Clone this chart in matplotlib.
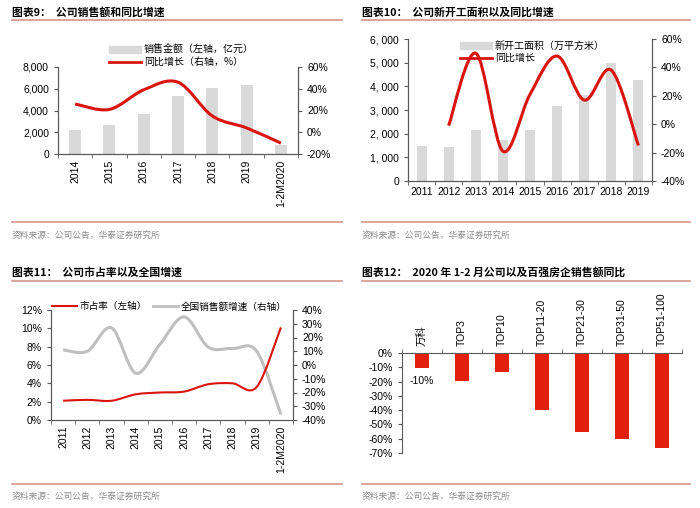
import matplotlib
matplotlib.use("Agg")
import matplotlib.pyplot as plt
import numpy as np
from matplotlib.path import Path
from matplotlib.patches import PathPatch, Patch
from matplotlib.lines import Line2D
from matplotlib.ticker import FuncFormatter

plt.rcParams['font.family'] = ['Liberation Sans', 'Noto Sans CJK SC', 'DejaVu Sans']

# ---- data ----
years9 = ["2014", "2015", "2016", "2017", "2018", "2019", "1-2M2020"]
sales9 = [2200, 2650, 3700, 5300, 6100, 6300, 850]
growth9 = [26, 21, 39, 46, 15, 4, -10]

years10 = ["2011", "2012", "2013", "2014", "2015", "2016", "2017", "2018", "2019"]
area10 = [1480, 1450, 2150, 1750, 2150, 3150, 3650, 5000, 4250]
growth10 = [-1, 50, -19, 21, 48, 17, 38, -15]  # from 2012

years11 = ["2011", "2012", "2013", "2014", "2015", "2016", "2017", "2018", "2019", "1-2M2020"]
share11 = [2.1, 2.2, 2.1, 2.8, 3.0, 3.1, 3.9, 4.0, 3.6, 10.1]
national11 = [11, 10, 27, -6, 15, 35, 13, 12, 10, -36]

cats12 = ["万科", "TOP3", "TOP10", "TOP11-20", "TOP21-30", "TOP31-50", "TOP51-100"]
yoy12 = [-10.5, -19.5, -13.5, -40, -55.5, -60, -66.5]

RED = "#D9140F"
GREY = "#D9D9D9"
SPINE = "#595959"
W, H = 700, 508


def rect(l, t, r, b):
    return [l / W, 1 - b / H, (r - l) / W, (b - t) / H]


def smooth_path(x, y):
    x = np.asarray(x, float)
    y = np.asarray(y, float)
    verts = [(x[0], y[0])]
    codes = [Path.MOVETO]
    n = len(x)
    for i in range(n - 1):
        i0 = max(i - 1, 0)
        i3 = min(i + 2, n - 1)
        c1 = (x[i] + (x[i + 1] - x[i0]) / 6, y[i] + (y[i + 1] - y[i0]) / 6)
        c2 = (x[i + 1] - (x[i3] - x[i]) / 6, y[i + 1] - (y[i3] - y[i]) / 6)
        verts += [c1, c2, (x[i + 1], y[i + 1])]
        codes += [Path.CURVE4] * 3
    return Path(verts, codes)


def style_axes(ax, n, rot=0):
    for s in ax.spines.values():
        s.set_color(SPINE)
        s.set_linewidth(0.8)
    ax.spines["top"].set_visible(False)
    ax.set_xlim(-0.5, n - 0.5)
    ax.set_xticks(np.arange(n))
    ax.set_xticks(np.arange(n + 1) - 0.5, minor=True)
    ax.tick_params(axis="x", which="major", length=0, labelsize=7.5, rotation=rot, pad=4)
    ax.tick_params(axis="x", which="minor", length=3, color=SPINE)
    ax.tick_params(axis="y", length=3, color=SPINE, labelsize=7.5)


def style_right(axr):
    axr.spines["top"].set_visible(False)
    for s in axr.spines.values():
        s.set_color(SPINE)
        s.set_linewidth(0.8)
    axr.tick_params(axis="y", length=3, color=SPINE, labelsize=7.5)
    axr.yaxis.set_major_formatter(FuncFormatter(lambda v, p: f"{int(v)}%"))


def frame(fig, x0, x1, ytitle, yline, ybot, ysrc, title):
    fig.text(x0 / W, 1 - ytitle / H, title, fontsize=7.8, fontweight="bold",
             va="center", ha="left", family=['Noto Sans CJK SC', 'DejaVu Sans'])
    for y in (yline, ybot):
        fig.add_artist(Line2D([x0 / W, x1 / W], [1 - y / H, 1 - y / H],
                              transform=fig.transFigure, color="#D4968A", lw=1.2))
    fig.text(x0 / W, 1 - ysrc / H, "资料来源：公司公告，华泰证券研究所", fontsize=6.3,
             color="#8C8C8C", va="center", ha="left", family=['Noto Sans CJK SC', 'DejaVu Sans'])


fig = plt.figure(figsize=(7, 5.08), dpi=100)
fig.patch.set_facecolor("white")

frame(fig, 12, 342, 12, 20, 222, 235, "图表9：  公司销售额和同比增速")
frame(fig, 362, 690, 12, 20, 222, 235, "图表10：  公司新开工面积以及同比增速")
frame(fig, 12, 342, 272, 281, 484, 496, "图表11：  公司市占率以及全国增速")
frame(fig, 362, 690, 272, 281, 484, 496, "图表12：  2020 年 1-2 月公司以及百强房企销售额同比")

# ---- panel 9 ----
ax = fig.add_axes(rect(58, 67, 298, 154))
x = np.arange(len(years9))
ax.bar(x, sales9, width=0.35, color=GREY)
style_axes(ax, len(years9), rot=90)
ax.set_xticklabels(years9)
ax.set_ylim(0, 8000)
ax.set_yticks(range(0, 8001, 2000))
ax.yaxis.set_major_formatter(FuncFormatter(lambda v, p: f"{int(v):,}"))
axr = ax.twinx()
axr.set_ylim(-20, 60)
axr.set_yticks(range(-20, 61, 20))
style_right(axr)
axr.add_patch(PathPatch(smooth_path(x, growth9), fill=False, edgecolor=RED, lw=2.2))
fig.legend([Patch(color=GREY), Line2D([], [], color=RED, lw=2)],
           ["销售金额（左轴，亿元）", "同比增长（右轴，%）"],
           loc="upper left", bbox_to_anchor=(104 / W, 1 - 40 / H), frameon=False,
           handlelength=3.2, handleheight=0.6, labelspacing=0.2,
           handletextpad=0.3, borderpad=0, prop={'family': ['Noto Sans CJK SC'], 'size': 7.2})

# ---- panel 10 ----
ax = fig.add_axes(rect(408, 39, 652, 181))
x = np.arange(len(years10))
ax.bar(x, area10, width=0.37, color=GREY)
style_axes(ax, len(years10))
ax.set_xticklabels(years10)
ax.set_ylim(0, 6000)
ax.set_yticks(range(0, 6001, 1000))
ax.yaxis.set_major_formatter(FuncFormatter(lambda v, p: f"{int(v):,}".replace(",", ", ")))
axr = ax.twinx()
axr.set_ylim(-40, 60)
axr.set_yticks(range(-40, 61, 20))
style_right(axr)
axr.add_patch(PathPatch(smooth_path(x[1:], growth10), fill=False, edgecolor=RED, lw=2.2))
fig.legend([Patch(color=GREY), Line2D([], [], color=RED, lw=2)],
           ["新开工面积（万平方米）", "同比增长"],
           loc="upper left", bbox_to_anchor=(455 / W, 1 - 36 / H), frameon=False,
           handlelength=3.2, handleheight=0.6, labelspacing=0.2,
           handletextpad=0.3, borderpad=0, prop={'family': ['Noto Sans CJK SC'], 'size': 7.2})

# ---- panel 11 ----
ax = fig.add_axes(rect(51, 310, 293, 420))
x = np.arange(len(years11))
style_axes(ax, len(years11), rot=90)
ax.set_xticklabels(years11)
ax.set_ylim(0, 12)
ax.set_yticks(range(0, 13, 2))
ax.yaxis.set_major_formatter(FuncFormatter(lambda v, p: f"{int(v)}%"))
axr = ax.twinx()
axr.set_ylim(-40, 40)
axr.set_yticks(range(-40, 41, 10))
style_right(axr)
axr.add_patch(PathPatch(smooth_path(x, national11), fill=False, edgecolor="#BFBFBF", lw=2.2))
ax.set_zorder(axr.get_zorder() + 1)
ax.patch.set_visible(False)
ax.add_patch(PathPatch(smooth_path(x, share11), fill=False, edgecolor=RED, lw=1.5))
fig.legend([Line2D([], [], color=RED, lw=1.5), Line2D([], [], color="#BFBFBF", lw=2)],
           ["市占率（左轴）", "全国销售额增速（右轴）"],
           loc="upper left", bbox_to_anchor=(47 / W, 1 - 297 / H), frameon=False, ncol=2,
           handlelength=2.6, columnspacing=0.6, handletextpad=0.3, borderpad=0,
           prop={'family': ['Noto Sans CJK SC'], 'size': 6.9})

# ---- panel 12 ----
ax = fig.add_axes(rect(402, 353, 682, 453))
x = np.arange(len(cats12))
ax.bar(x, yoy12, width=0.33, color="#E3200E")
for s in ax.spines.values():
    s.set_color(SPINE)
    s.set_linewidth(0.8)
ax.spines["bottom"].set_visible(False)
ax.spines["right"].set_visible(False)
ax.set_xlim(-0.5, len(cats12) - 0.5)
ax.set_ylim(-70, 0)
ax.set_yticks(range(-70, 1, 10))
ax.yaxis.set_major_formatter(FuncFormatter(lambda v, p: f"{int(v)}%"))
ax.tick_params(axis="y", length=3, color=SPINE, labelsize=7.5)
ax.xaxis.tick_top()
ax.set_xticks(x)
ax.set_xticklabels(cats12, rotation=90, family=['Liberation Sans', 'Noto Sans CJK SC'])
ax.set_xticks(np.arange(len(cats12) + 1) - 0.5, minor=True)
ax.tick_params(axis="x", which="major", length=0, labelsize=7.5, pad=5)
ax.tick_params(axis="x", which="minor", length=3, color=SPINE)
ax.text(0, -19.6, f"{int(round(yoy12[0]))}%", ha="center", va="center", fontsize=7.5)

fig.savefig("out.png", dpi=100)
